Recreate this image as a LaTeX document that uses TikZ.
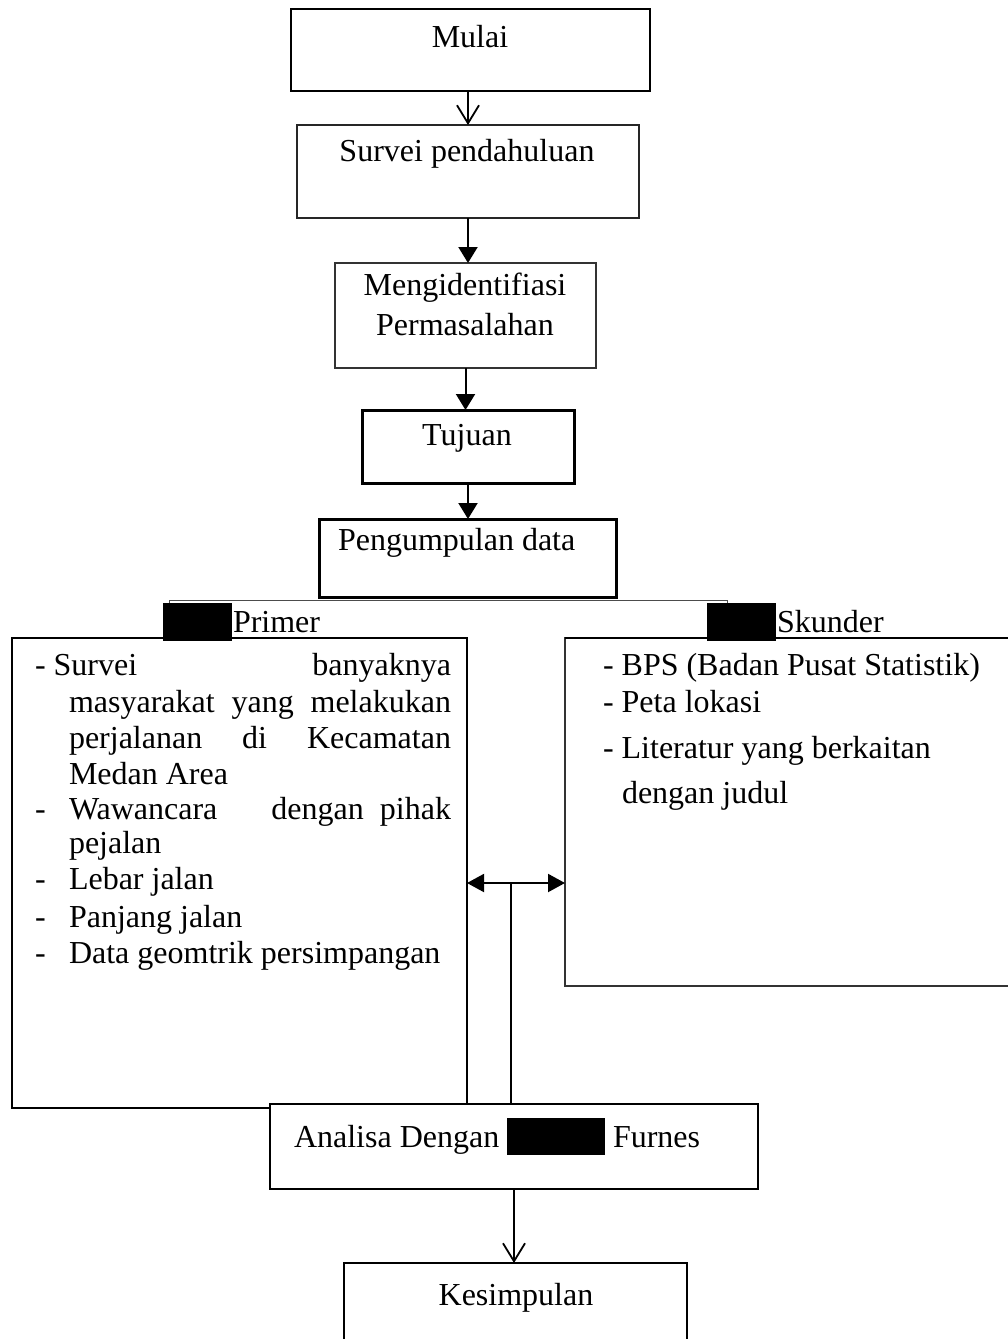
\documentclass[tikz,border=0pt]{standalone}
\usepackage{fontspec}
\setmainfont{Liberation Serif}
\usetikzlibrary{arrows.meta}
\begin{document}
\begin{tikzpicture}[x=1pt,y=-1pt,
  every node/.style={font=\fontsize{32}{36}\selectfont, inner sep=0pt, outer sep=0pt},
  box/.style={draw, line width=2pt, fill=white, rectangle},
  tbox/.style={draw, line width=3pt, fill=white, rectangle},
  txt/.style={anchor=base west},
  ctxt/.style={anchor=base},
  redact/.style={fill=black, rectangle},
  filledarr/.style={line width=2pt, -{Triangle[length=16pt,width=19pt]}},
  openarr/.style={line width=1.8pt, -{Straight Barb[length=18pt,width=22pt]}},
  conn/.style={line width=1.8pt}
]
\useasboundingbox (0,0) rectangle (1007,1339);
\fill[white] (0,0) rectangle (1007,1339);

% top chain
\node[box, minimum width=359pt, minimum height=82pt] (mulai) at (470.5,50) {};
\node[ctxt] (mulaiT) at (470,47) {Mulai};
\node[box, draw=black!85, minimum width=342pt, minimum height=93pt] (survei) at (468,171.5) {};
\node[ctxt] (surveiT) at (467,161) {Survei pendahuluan};
\node[box, draw=black!80, minimum width=261pt, minimum height=105pt] (ident) at (465.5,315.5) {};
\node[ctxt] (identT1) at (465,295) {Mengidentifiasi};
\node[ctxt] (identT2) at (465,335) {Permasalahan};
\node[tbox, minimum width=212pt, minimum height=73pt] (tujuan) at (468,446.5) {};
\node[ctxt] (tujuanT) at (467,445) {Tujuan};
\node[tbox, minimum width=297pt, minimum height=78pt] (kumpul) at (467.5,558) {};
\node[txt] (kumpulT) at (338,550) {Pengumpulan data};

\draw[openarr] (survei.north |- mulai.south) -- (survei.north);
\draw[filledarr] (survei.south) -- (survei.south |- ident.north);
\draw[filledarr] (ident.south) -- (ident.south |- tujuan.north);
\draw[filledarr] (tujuan.south) -- (tujuan.south |- kumpul.north);

% primer / skunder boxes
\node[box, line width=1.7pt, minimum width=455pt, minimum height=470pt] (primer) at (239.5,873) {};
\node[box, line width=1.7pt, draw=black!80, minimum width=447pt, minimum height=348pt] (skunder) at (788.5,812) {};
\draw[line width=2.8pt] (primer.north west) -- (primer.north east);
\draw[line width=2.8pt] (skunder.north west) -- (skunder.north east);

% bracket from Pengumpulan data
\node[redact, minimum width=69pt, minimum height=38pt] (pmark) at (197.5,622) {};
\node[redact, minimum width=69pt, minimum height=38pt] (smark) at (741.5,622) {};
\coordinate (bl) at (169,600);
\coordinate (br) at (727,600);
\draw[line width=1pt, draw=black!70] (bl |- pmark.north) -- (bl) -- (br) -- (br |- smark.north);
\node[txt] (primerT) at (233,632) {Primer};
\node[txt] (skunderT) at (777,632) {Skunder};

% primer text
\node[txt] (p1) at (35,675) {\hbox to 416pt{- Survei\hfill banyaknya}};
\node[txt] (p2) at (69,712) {\hbox to 382pt{masyarakat\hfill yang\hfill melakukan}};
\node[txt] (p3) at (69,748) {\hbox to 382pt{perjalanan\hfill di\hfill Kecamatan}};
\node[txt] (p4) at (69,784) {Medan Area};
\node[txt] (p5d) at (35,819) {-};
\node[txt] (p5) at (69,819) {\hbox to 382pt{Wawancara\hfill dengan\hspace{0.5em}pihak}};
\node[txt] (p6) at (69,853) {pejalan};
\node[txt] (p7d) at (35,889) {-};
\node[txt] (p7) at (69,889) {Lebar jalan};
\node[txt] (p8d) at (35,927) {-};
\node[txt] (p8) at (69,927) {Panjang jalan};
\node[txt] (p9d) at (35,963) {-};
\node[txt] (p9) at (69,963) {Data geomtrik persimpangan};

% skunder text
\node[txt] (s1) at (603,675) {- BPS (Badan Pusat Statistik)};
\node[txt] (s2) at (603,712) {- Peta lokasi};
\node[txt] (s3) at (603,758) {- Literatur yang berkaitan};
\node[txt] (s4) at (622,803) {dengan judul};

% analisa
\node[box, minimum width=488pt, minimum height=85pt] (analisa) at (514,1146.5) {};
\node[txt] (analisaT) at (294,1147) {Analisa Dengan};
\node[redact, minimum width=98pt, minimum height=37pt] (amark) at (556,1136.5) {};
\node[txt] (furnesT) at (613,1147) {Furnes};

% double arrow and connector
\coordinate (j) at (511,883);
\draw[line width=2pt, {Triangle[length=17pt,width=18pt]}-{Triangle[length=17pt,width=18pt]}] (primer.east |- j) -- (skunder.west |- j);
\draw[conn] (analisa.north -| j) -- (j);

% kesimpulan (bottom cut off)
\coordinate (kw) at (344,1263);
\coordinate (ke) at (687,1263);
\draw[box] (344,1339) -- (kw) -- (ke) -- (687,1339);
\node[ctxt] (kesT) at (516,1305) {Kesimpulan};
\draw[openarr] (analisa.south) -- (analisa.south |- kw);
\end{tikzpicture}
\end{document}
